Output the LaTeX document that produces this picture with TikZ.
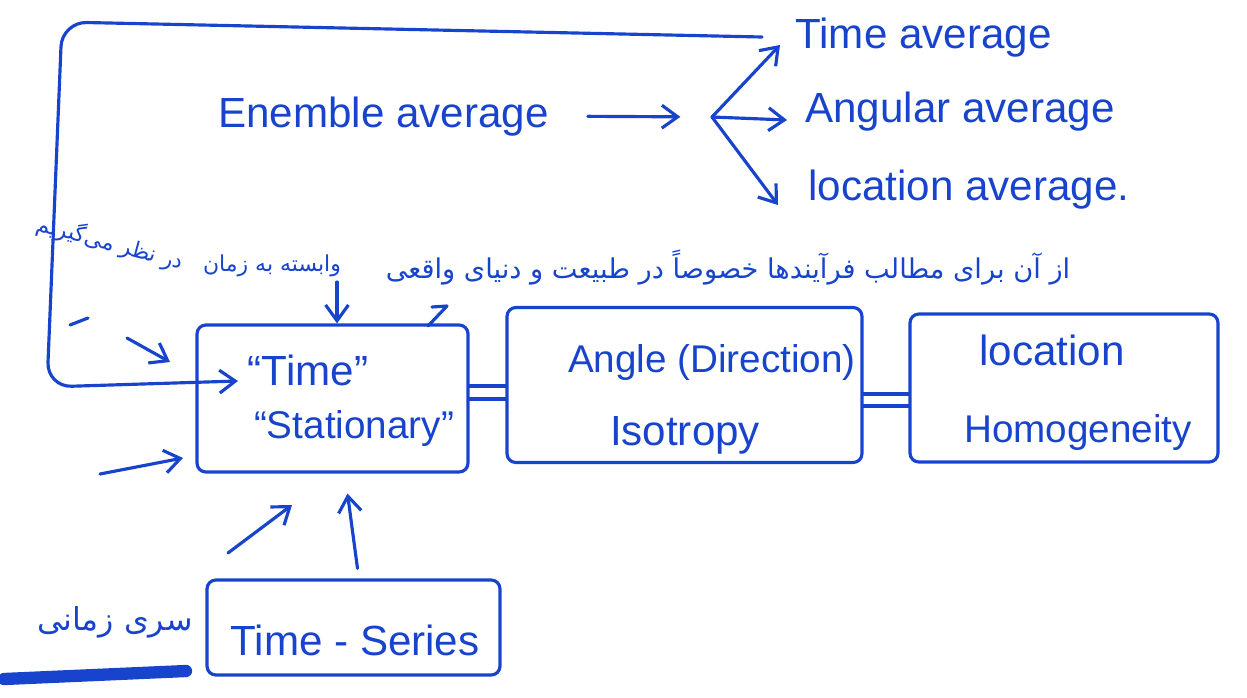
\documentclass[tikz,border=0pt]{standalone}
\usepackage{fontspec}
\setmainfont{Liberation Sans}
\newfontfamily\fa[Script=Arabic]{DejaVu Sans}
\TeXXeTstate=1
\usetikzlibrary{arrows.meta,calc}
\definecolor{ink}{RGB}{24,68,205}
\begin{document}
\begin{tikzpicture}[x=0.02cm,y=-0.02cm,
  pen/.style={draw=ink, line width=1.8pt, line cap=round, line join=round},
  lbl/.style={text=ink, font=\fontsize{24}{28}\selectfont, inner sep=0pt},
  small/.style={lbl, font=\fontsize{22}{26}\selectfont},
  fatext/.style={text=ink, font=\fa\fontsize{15.5}{18}\selectfont, inner sep=0pt},
  fasmall/.style={fatext, font=\fa\fontsize{12.5}{15}\selectfont},
  box/.style={pen, rounded corners=5pt, inner sep=0pt},
  arr/.style={pen, -{Straight Barb[length=9pt,width=13pt]}}]
\useasboundingbox (0,0) rectangle (1247,697);

% averages
\node[lbl, anchor=base west] (ens) at (218,127) {Enemble average};
\node[lbl, anchor=base west] (ta) at (795,48) {Time average};
\node[lbl, anchor=base west] (aa) at (805,122) {Angular average};
\node[lbl, anchor=base west] (la) at (808,200) {location average.};
\coordinate (fan) at (712,117);
\draw[arr, shorten <=22pt, shorten >=18pt] (ens.east) -- (fan);
\draw[arr] (fan) -- ($(ta.base west)+(-15,-3)$);
\draw[arr] (fan) -- ($(aa.base west)+(-18,-2)$);
\draw[arr] (fan) -- ($(la.base west)+(-30,5)$);

% boxes
\node[box, minimum width=5.42cm, minimum height=2.94cm] (tbox) at (332.5,398.5) {};
\node[box, minimum width=7.1cm, minimum height=3.1cm] (abox) at (684.5,385) {};
\node[box, minimum width=6.16cm, minimum height=2.96cm] (lbox) at (1064,388) {};
\node[box, minimum width=5.86cm, minimum height=1.9cm] (sbox) at (353.5,627.5) {};

\node[lbl] (ttime) at (308,370) {“Time”};
\node[small] (tstat) at (354,428) {“Stationary”};
\node[small] (aang) at (712,362) {Angle (Direction)};
\node[lbl] (aiso) at (685,435) {Isotropy};
\node[lbl] (lloc) at (1052,350) {location};
\node[small] (lhom) at (1078,432) {Homogeneity};
\node[lbl] (sts) at (355,640) {Time - Series};

% equal signs between the boxes
\coordinate (e1) at (0,386); \coordinate (e2) at (0,399);
\coordinate (e3) at (0,394); \coordinate (e4) at (0,406);
\draw[pen] (tbox.east |- e1) -- (abox.west |- e1);
\draw[pen] (tbox.east |- e2) -- (abox.west |- e2);
\draw[pen] (abox.east |- e3) -- (lbox.west |- e3);
\draw[pen] (abox.east |- e4) -- (lbox.west |- e4);

% feedback loop from the time average
\coordinate (loopstart) at (762,37);
\coordinate (loopend) at (238,381);
\draw[arr, rounded corners=14pt] (loopstart) -- (62,22) -- (47,387) -- (loopend);

% Persian notes
\node[fatext] (note) at (728,268) {\beginR از آن برای مطالب فرآیندها خصوصاً در طبیعت و دنیای واقعی\endR};
\node[fasmall] (vab) at (272,266) {\beginR وابسته به زمان\endR};
\node[fasmall, rotate=-15] (nazar) at (110,243) {\beginR در نظر می‌گیریم\endR};
\node[fatext, font=\fa\fontsize{18}{21}\selectfont] (seri) at (115,622) {\beginR سری زمانی\endR};
\draw[draw=ink, line width=7pt, line cap=round] (4,679) -- (186,671);

% arrows pointing at the stationary box
\coordinate (t1) at (127,338); \coordinate (h1) at (170,362);
\coordinate (t2) at (100,474); \coordinate (h2) at (183,458);
\coordinate (t3) at (228,553); \coordinate (h3) at (292,505);
\coordinate (t5) at (337,282);
\draw[arr] (t1) -- (h1);
\draw[arr] (t2) -- (h2);
\draw[arr] (t3) -- (h3);
\draw[arr] ($(sbox.north)+(4,-10)$) -- ($(tbox.south)+(15,20)$);
\draw[arr] (t5) -- (tbox.north -| t5);

% small strokes
\draw[pen] (70,325) -- (88,318);
\draw[pen] (432,307) -- (447,306) -- (428,326);
\end{tikzpicture}
\end{document}
